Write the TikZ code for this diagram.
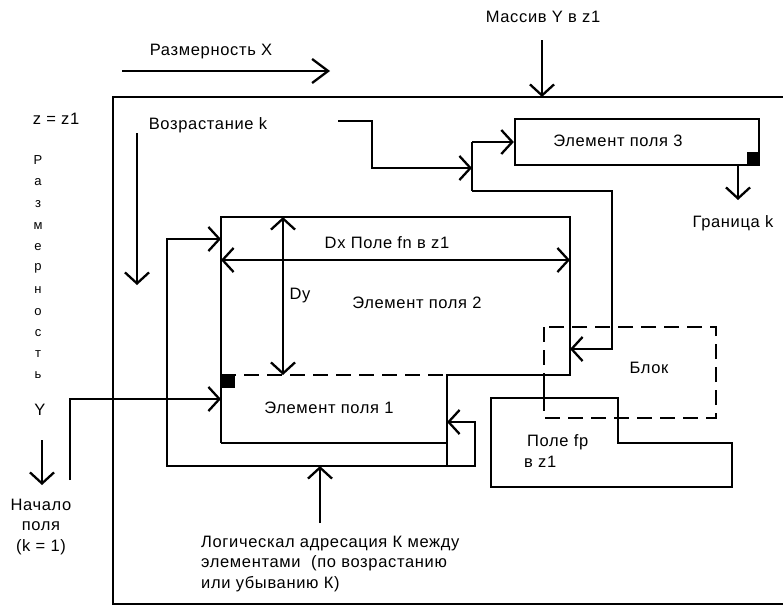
\documentclass[tikz,border=0pt]{standalone}
\usepackage{fontspec}
\setmainfont{Liberation Sans}[LetterSpace=4]
\usetikzlibrary{arrows.meta}
\begin{document}
\begin{tikzpicture}[x=1pt,y=-1pt,line width=2.3pt,line join=miter,
  arr/.style={-{Straight Barb[length=11pt,width=24pt]}},
  bigarr/.style={-{Straight Barb[length=16pt,width=24pt]}},
  darr/.style={{Straight Barb[length=11pt,width=24pt]}-{Straight Barb[length=11pt,width=24pt]}},
  lbl/.style={font=\fontsize{16.5}{20.5}\selectfont,inner sep=0pt},
  vl/.style={font=\fontsize{13}{14}\selectfont,inner sep=0pt},
  dsh/.style={dash pattern=on 15pt off 8pt}]
\useasboundingbox (0,0) rectangle (783,608);
% outer frame
\coordinate (fTR) at (783,97);
\coordinate (fTL) at (113,97);
\coordinate (fBL) at (113,604);
\coordinate (fBR) at (783,604);
\draw (fTR) -- (fTL) -- (fBL) -- (fBR);
% top labels
\node[lbl] (rx) at (211,52) {Размерность X};
\coordinate (rxA) at (122,71);
\coordinate (rxB) at (330,71);
\draw[bigarr] (rxA) -- (rxB);
\node[lbl] (my) at (543,17) {Массив Y в z1};
\coordinate (myA) at (542,40);
\coordinate (myB) at (542,97);
\draw[arr] (myA) -- (myB);
% left labels
\node[lbl] (zz) at (56,119) {z = z1};
\foreach \ch/\yy [count=\i] in {Р/160,а/182,з/204,м/226,е/247,р/268,н/290,о/312,с/333,т/354,ь/375}
  \node[vl] (v\i) at (38,\yy) {\ch};
\node[lbl] (vy) at (40,410) {Y};
\coordinate (yA) at (42,440);
\coordinate (yB) at (42,485);
\draw[arr] (yA) -- (yB);
\node[lbl,align=center] (nach) at (41,527) {Начало\\поля\\(k = 1)};
% Vozrastanie k
\node[lbl] (vk) at (208,125) {Возрастание k};
\coordinate (vkA) at (137,133);
\coordinate (vkB) at (137,285);
\draw[arr] (vkA) -- (vkB);
% Element 3
\node[draw,minimum width=244pt,minimum height=46pt,inner sep=0pt] (e3) at (637,142) {};
\node[lbl] (t3) at (618,141) {Элемент поля 3};
\fill (e3.south east) rectangle +(-13,-14);
\coordinate (gA) at (738,165);
\coordinate (gB) at (738,200);
\draw[arr] (gA) -- (gB);
\node[lbl] (gr) at (733,223) {Граница k};
% connector from Vozrastanie to junction
\coordinate (c1) at (338,121);
\coordinate (c2) at (372,121);
\coordinate (c3) at (372,168);
\coordinate (j) at (472,168);
\coordinate (jT) at (472,142);
\coordinate (jB) at (472,191);
\draw[arr] (c1) -- (c2) -- (c3) -- (j);
\draw (jT) -- (jB);
\draw[arr] (jT) -- (e3.west);
% Element 2 / Element 1
\coordinate (e2TL) at (221,217);
\coordinate (e2TR) at (570,217);
\coordinate (e2BR) at (570,375);
\coordinate (e1TR) at (447,375);
\coordinate (e1TL) at (221,375);
\coordinate (e1BL) at (221,443);
\coordinate (e1BR) at (447,443);
\coordinate (e1R) at (447,466);
\draw (e1BL) -- (e2TL) -- (e2TR) -- (e2BR) -- (e1TR) -- (e1R);
\draw (e1BL) -- (e1BR);
\draw[dsh] (e1TL) -- (e1TR);
\fill (222,375) rectangle (235,388);
% connector junction -> Element 2 right
\coordinate (d1) at (612,191);
\coordinate (d2) at (612,349);
\coordinate (d3) at (570,349);
\draw[arr] (jB) -- (d1) -- (d2) -- (d3);
% loop
\coordinate (l1) at (447,422);
\coordinate (l2) at (475,422);
\coordinate (l3) at (475,466);
\coordinate (l4) at (167,466);
\coordinate (l5) at (167,239);
\coordinate (l6) at (221,239);
\draw[darr] (l1) -- (l2) -- (l3) -- (l4) -- (l5) -- (l6);
% input to Element 1
\coordinate (i1) at (70,480);
\coordinate (i2) at (70,399);
\coordinate (i3) at (221,399);
\draw[arr] (i1) -- (i2) -- (i3);
% Dx, Dy
\coordinate (dxA) at (221,260);
\coordinate (dxB) at (570,260);
\draw[darr] (dxA) -- (dxB);
\node[lbl] (dx) at (387,243) {Dx Поле fn в z1};
\coordinate (dyA) at (283,217);
\coordinate (dyB) at (283,375);
\draw[darr] (dyA) -- (dyB);
\node[lbl] (dy) at (300,296) {Dy};
\node[lbl] (t2) at (417,303) {Элемент поля 2};
\node[lbl] (t1) at (329,408) {Элемент поля 1};
% Pole fp
\coordinate (p0) at (544,375);
\coordinate (p1) at (544,398);
\draw (p0) -- (p1);
\draw (491,398) -- (618,398) -- (618,443) -- (732,443) -- (732,487) -- (491,487) -- cycle;
\node[lbl,anchor=west] (pf1) at (526,442) {Поле fp};
\node[lbl,anchor=west] (pf2) at (523,462) {в z1};
% Blok
\draw[dsh] (544,327) rectangle (716,418);
\node[lbl] (bl) at (649,368) {Блок};
% bottom
\coordinate (bA) at (320,523);
\coordinate (bB) at (320,466);
\draw[arr] (bA) -- (bB);
\node[lbl,align=left,anchor=west] (lg) at (200,564) {Логическал адресация К между\\элементами\ \ (по возрастанию\\или убыванию К)};
\end{tikzpicture}
\end{document}
